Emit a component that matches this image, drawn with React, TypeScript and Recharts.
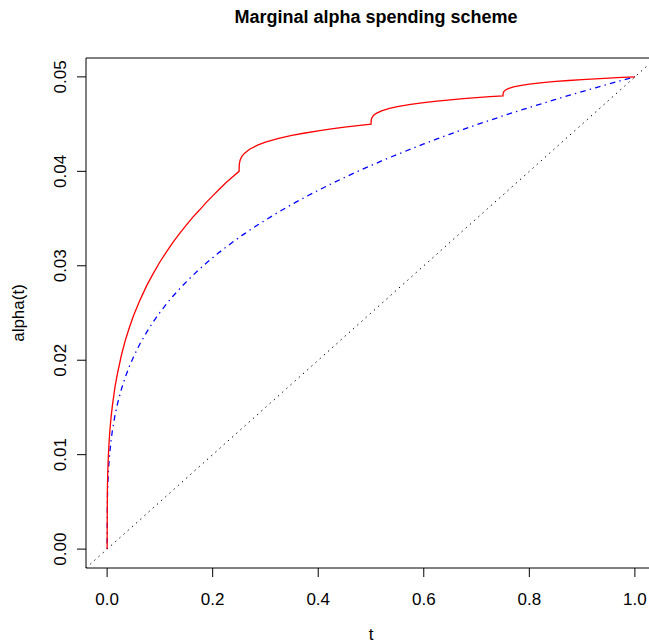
import { LineChart, Line, XAxis, YAxis, ReferenceArea } from "recharts";

// Marginal alpha spending: values
const tGrid = [
  0, 0.0005, 0.001, 0.002, 0.0035, 0.005, 0.0075, 0.01, 0.015, 0.02, 0.0275, 0.035, 0.0425, 0.05, 0.0625,
  0.075, 0.0875, 0.1, 0.1125, 0.125, 0.1375, 0.15, 0.1625, 0.175, 0.1875, 0.2, 0.2125, 0.225, 0.2375, 0.25,
  0.2505, 0.252, 0.255, 0.26, 0.27, 0.285, 0.3, 0.325, 0.35, 0.375, 0.4, 0.425, 0.45, 0.475, 0.5,
  0.5005, 0.502, 0.505, 0.51, 0.52, 0.535, 0.55, 0.575, 0.6, 0.625, 0.65, 0.675, 0.7, 0.725, 0.75,
  0.7505, 0.752, 0.755, 0.76, 0.77, 0.785, 0.8, 0.825, 0.85, 0.875, 0.9, 0.925, 0.95, 0.975, 1,
];

const marginalAlpha = [
  0, 0.0062, 0.00763, 0.0094, 0.01112, 0.0124, 0.01397, 0.0152, 0.0172, 0.0187, 0.02063, 0.0222, 0.02351, 0.0247, 0.02639,
  0.0279, 0.0292, 0.0304, 0.03148, 0.0325, 0.03343, 0.0343, 0.03515, 0.0359, 0.03669, 0.0374, 0.0381, 0.0388, 0.03939, 0.04,
  0.04078, 0.04117, 0.04155, 0.0419, 0.04234, 0.04277, 0.04309, 0.04348, 0.0438, 0.04406, 0.04429, 0.04449, 0.04468, 0.04484, 0.045,
  0.04547, 0.0457, 0.04593, 0.04614, 0.04641, 0.04666, 0.04685, 0.04709, 0.04728, 0.04744, 0.04757, 0.0477, 0.04781, 0.04791, 0.048,
  0.04831, 0.04847, 0.04862, 0.04876, 0.04894, 0.04911, 0.04923, 0.04939, 0.04952, 0.04962, 0.04972, 0.0498, 0.04987, 0.04994, 0.05,
];

const smoothAlpha = [
  0, 0.00511, 0.0063, 0.00775, 0.00917, 0.0102, 0.01152, 0.01256, 0.01419, 0.01546, 0.01701, 0.01829, 0.01939, 0.02035, 0.02177,
  0.02298, 0.02408, 0.02506, 0.02596, 0.0268, 0.02757, 0.0283, 0.02899, 0.02964, 0.03026, 0.03085, 0.03142, 0.03196, 0.03249, 0.03299,
  0.03301, 0.03307, 0.03319, 0.03338, 0.03376, 0.03431, 0.03484, 0.03569, 0.0365, 0.03726, 0.03799, 0.03868, 0.03935, 0.04, 0.04061,
  0.04062, 0.04066, 0.04073, 0.04085, 0.0411, 0.04145, 0.04179, 0.04235, 0.0429, 0.04343, 0.04394, 0.04444, 0.04493, 0.0454, 0.04587,
  0.04588, 0.04591, 0.04596, 0.04605, 0.04623, 0.0465, 0.04676, 0.04719, 0.04762, 0.04803, 0.04844, 0.04884, 0.04924, 0.04962, 0.05,
];

// reference line alpha = 0.05 * t, spanning the whole plot region
const diagT = [-0.04, 1.04];
const diagAlpha = [-0.002, 0.052];

const xTicks = [0, 0.2, 0.4, 0.6, 0.8, 1];
const yTicks = [0, 0.01, 0.02, 0.03, 0.04, 0.05];

const FONT = "'Liberation Sans', Arial, Helvetica, sans-serif";

const curveData = tGrid.map((t, i) => ({ t, red: marginalAlpha[i], blue: smoothAlpha[i] }));
const diagData = diagT.map((t, i) => ({ t, diag: diagAlpha[i] }));

function XTick({ x, y, payload }: any) {
  return (
    <text x={x} y={y + 28} textAnchor="middle" fontSize={17} fontFamily={FONT} fill="#000">
      {Number(payload.value).toFixed(1)}
    </text>
  );
}

function YTick({ x, y, payload }: any) {
  const bx = x - 11;
  return (
    <text
      x={bx}
      y={y}
      transform={`rotate(-90, ${bx}, ${y})`}
      textAnchor="middle"
      fontSize={17}
      fontFamily={FONT}
      fill="#000"
    >
      {Number(payload.value).toFixed(2)}
    </text>
  );
}

export default function App() {
  return (
    <div
      style={{
        position: "absolute",
        left: 0,
        top: 0,
        width: 649,
        height: 644,
        overflow: "hidden",
        background: "#fff",
      }}
    >
      <LineChart width={657} height={644} margin={{ top: 58, right: 1, bottom: 0, left: 0 }}>
        <XAxis
          dataKey="t"
          type="number"
          domain={[-0.04, 1.04]}
          ticks={xTicks}
          allowDataOverflow
          allowDuplicatedCategory={false}
          height={76}
          axisLine={false}
          tickSize={9}
          tickMargin={0}
          tickLine={{ stroke: "#000" }}
          tick={<XTick />}
        />
        <YAxis
          type="number"
          domain={[-0.002, 0.052]}
          ticks={yTicks}
          allowDataOverflow
          width={86}
          axisLine={false}
          tickSize={9}
          tickMargin={0}
          tickLine={{ stroke: "#000" }}
          tick={<YTick />}
        />
        <ReferenceArea
          x1={-0.04}
          x2={1.04}
          y1={-0.002}
          y2={0.052}
          fill="none"
          stroke="#000"
          strokeWidth={1}
          ifOverflow="visible"
        />
        <Line
          data={diagData}
          dataKey="diag"
          type="linear"
          stroke="#000"
          strokeWidth={1}
          strokeDasharray="1.4 4.2"
          dot={false}
          activeDot={false}
          isAnimationActive={false}
        />
        <Line
          data={curveData}
          dataKey="blue"
          type="linear"
          stroke="#0000ff"
          strokeWidth={1.3}
          strokeDasharray="1.4 4.2 5.6 4.2"
          dot={false}
          activeDot={false}
          isAnimationActive={false}
        />
        <Line
          data={curveData}
          dataKey="red"
          type="linear"
          stroke="#ff0000"
          strokeWidth={1.3}
          dot={false}
          activeDot={false}
          isAnimationActive={false}
        />
        <text x={376} y={23} textAnchor="middle" fontSize={18} fontWeight="bold" fontFamily={FONT} fill="#000">
          Marginal alpha spending scheme
        </text>
        <text x={371} y={640} textAnchor="middle" fontSize={17} fontFamily={FONT} fill="#000">
          t
        </text>
        <text
          x={24}
          y={313}
          transform="rotate(-90, 24, 313)"
          textAnchor="middle"
          fontSize={17}
          fontFamily={FONT}
          fill="#000"
        >
          alpha(t)
        </text>
      </LineChart>
    </div>
  );
}
